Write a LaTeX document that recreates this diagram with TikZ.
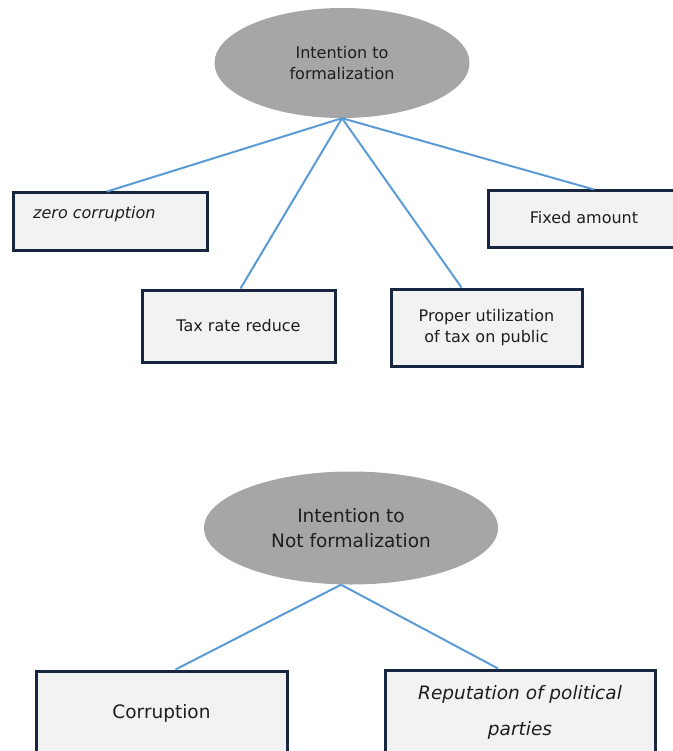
\documentclass[tikz,border=0pt]{standalone}
\usepackage{fontspec}
\setmainfont{DejaVu Sans}
\usetikzlibrary{shapes.geometric}

\definecolor{linkblue}{RGB}{91,155,213}
\definecolor{boxframe}{RGB}{23,37,64}
\definecolor{boxfill}{RGB}{242,242,242}
\definecolor{ovalfill}{RGB}{166,166,166}
\definecolor{textgray}{RGB}{30,30,30}

\begin{document}
\begin{tikzpicture}[x=1pt, y=-1pt,
			ovalnode/.style={ellipse, fill=ovalfill, inner sep=0pt, align=center, text=textgray},
			boxnode/.style={rectangle, draw=boxframe, fill=boxfill, line width=3pt, inner sep=0pt, align=center, text=textgray},
			smalltext/.style={font=\fontsize{16}{21}\selectfont},
			bigtext/.style={font=\fontsize{18.5}{25}\selectfont},
			link/.style={draw=linkblue, line width=2pt},
		]
			\useasboundingbox (0,0) rectangle (672,751);
		
			%Nodes
			\node[ovalnode, smalltext, minimum width=255pt, minimum height=110pt]	(formal)	at (342,63)		{Intention to\\formalization};
			\node[boxnode, minimum width=194pt, minimum height=57pt]				(zero)		at (110,221.5)	{};
			\node[smalltext, text=textgray, anchor=west, inner sep=0pt]			(zerotext)	at (33,214)		{\itshape zero corruption};
			\node[boxnode, minimum width=232pt, minimum height=56pt]				(fixed)		at (604,219)	{};
			\node[smalltext, text=textgray, inner sep=0pt]							(fixedtext)	at (584,218)	{Fixed amount};
			\node[boxnode, smalltext, minimum width=193pt, minimum height=72pt]	(taxrate)	at (238.5,326)	{Tax rate reduce};
			\node[boxnode, smalltext, minimum width=191pt, minimum height=77pt]	(proper)	at (486.5,327.5)	{Proper utilization\\of tax on public};
		
			\node[ovalnode, bigtext, minimum width=294pt, minimum height=113pt]	(notformal)	at (351,528)	{Intention to\\Not formalization};
			\node[boxnode, bigtext, minimum width=251pt, minimum height=84pt]		(corrupt)	at (161.5,713)	{Corruption};
			\node[boxnode, font=\fontsize{18.5}{36}\selectfont, minimum width=270pt, minimum height=84pt]	(reput)	at (520,712)	{\itshape Reputation of political\\\itshape parties};
		
			%Lines
			\draw[link]	(formal.south) -- ([xshift=-3pt]zero.north);
			\draw[link]	(formal.south) -- ([xshift=2pt]taxrate.north);
			\draw[link]	(formal.south) -- ([xshift=-25pt]proper.north);
			\draw[link]	(formal.south) -- ([xshift=-10pt]fixed.north);
			\draw[link]	([xshift=-10pt]notformal.south) -- ([xshift=14pt]corrupt.north);
			\draw[link]	([xshift=-10pt]notformal.south) -- ([xshift=-22pt]reput.north);
		
		\end{tikzpicture}
\end{document}
